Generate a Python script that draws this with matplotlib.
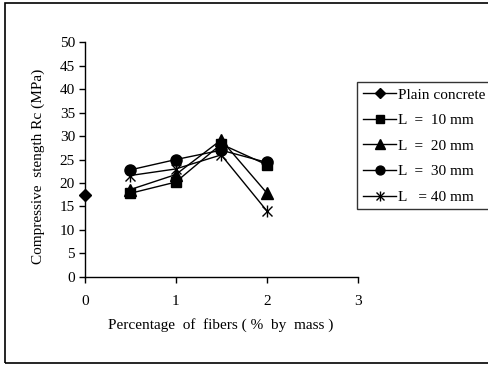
import matplotlib.pyplot as plt
from matplotlib.patches import Rectangle
from matplotlib.legend_handler import HandlerTuple

# datos
fibras = [0.5, 1.0, 1.5, 2.0]
plain_x = [0]
plain_y = [17.5]
L10 = [17.8, 20.2, 28.3, 23.9]
L20 = [18.6, 21.8, 29.2, 17.9]
L30 = [22.8, 25.0, 27.0, 24.4]
L40 = [21.6, 23.0, 26.0, 14.1]
etiquetas = ['Plain concrete', 'L  =  10 mm', 'L  =  20 mm', 'L  =  30 mm', 'L   = 40 mm']

plt.rcParams['font.family'] = ['Liberation Serif', 'DejaVu Serif']

fig = plt.figure(figsize=(4.88, 3.65), dpi=100)
ax = fig.add_axes([0.1736, 0.2416, 0.5594, 0.6424])

ms = 7.5
h0, = ax.plot(plain_x, plain_y, marker='D', color='black', lw=1, ms=6)
h1, = ax.plot(fibras, L10, marker='s', color='black', lw=1, ms=ms)
h2, = ax.plot(fibras, L20, marker='^', color='black', lw=1, ms=ms + 1)
h3, = ax.plot(fibras, L30, marker='o', color='black', lw=1, ms=ms + 0.5)
h4, = ax.plot(fibras, L40, marker='x', color='black', lw=1, ms=ms, mew=1)
h4b, = ax.plot(fibras, L40, marker='|', color='black', lw=0, ms=ms + 1, mew=1)

ax.set_xlim(0, 3)
ax.set_ylim(0, 50)
ax.set_xticks([0, 1, 2, 3])
ax.set_yticks(range(0, 51, 5))
for s in ['top', 'right']:
    ax.spines[s].set_visible(False)
ax.spines['left'].set_linewidth(1)
ax.spines['bottom'].set_linewidth(1)
ax.tick_params(direction='out', length=4, width=1, labelsize=11, colors='black')
ax.tick_params(axis='x', pad=9)
ax.tick_params(axis='y', pad=3)
for ln in ax.lines:
    ln.set_clip_on(False)

fig.text(0.453, 0.110, 'Percentage  of  fibers ( %  by  mass )', ha='center', va='center', fontsize=11)
fig.text(0.078, 0.544, 'Compressive  stength Rc (MPa)', ha='center', va='center',
         rotation=90, fontsize=11)

leg = ax.legend([h0, h1, h2, h3, (h4, h4b)], etiquetas,
                handler_map={tuple: HandlerTuple(ndivide=1)},
                loc='upper left', bbox_to_anchor=(0.7325, 0.774), bbox_transform=fig.transFigure,
                frameon=True, fancybox=False, edgecolor='black', fontsize=11,
                handlelength=2.2, handletextpad=0.1, borderpad=0.35, labelspacing=0.78,
                borderaxespad=0, markerscale=0.8)
leg.get_frame().set_linewidth(1)

# borde exterior del grafico
fig.patches.append(Rectangle((0.011, 0.006), 1.2, 0.986, transform=fig.transFigure,
                             fill=False, edgecolor='black', lw=1.2))

fig.savefig('out.png', dpi=100)
